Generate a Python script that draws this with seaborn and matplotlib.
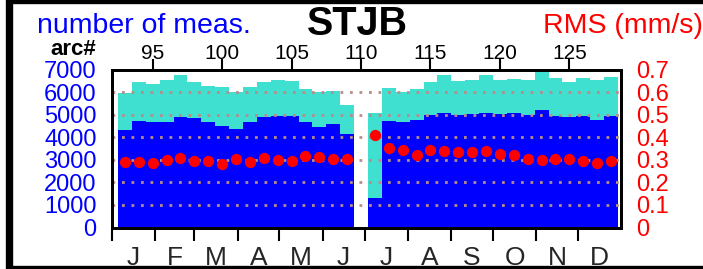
import seaborn as sns
import matplotlib
matplotlib.use("Agg")
import matplotlib.pyplot as plt
from matplotlib.patches import Rectangle

# arc numbers (arc 110 has no data)
arcs = [93, 94, 95, 96, 97, 98, 99, 100, 101, 102, 103, 104, 105, 106, 107, 108, 109,
        111, 112, 113, 114, 115, 116, 117, 118, 119, 120, 121, 122, 123, 124, 125, 126, 127, 128]

# total number of measurements per arc (turquoise)
meas_total = [5960, 6440, 6360, 6560, 6760, 6440, 6260, 6215, 6007, 6230, 6467, 6526, 6481,
              6156, 5993, 6037, 5444,
              5074, 6200, 6022, 6156, 6467, 6763, 6496, 6541, 6785, 6556, 6585, 6541, 6881,
              6615, 6437, 6630, 6556, 6689]

# used measurements per arc (blue)
meas_used = [4333, 4733, 4659, 4689, 4896, 4837, 4659, 4511, 4370, 4689, 4896, 4941, 4926,
             4659, 4452, 4600, 4156,
             1311, 4704, 4674, 4778, 5000, 5074, 5000, 5044, 5074, 5044, 5059, 4985, 5207,
             4941, 4881, 4956, 4748, 4941]

# RMS per arc (mm/s)
rms = [0.291, 0.290, 0.285, 0.301, 0.307, 0.294, 0.293, 0.283, 0.302, 0.289, 0.310, 0.300,
       0.293, 0.319, 0.314, 0.305, 0.303,
       0.409, 0.352, 0.345, 0.323, 0.342, 0.338, 0.334, 0.336, 0.339, 0.327, 0.323, 0.303,
       0.300, 0.303, 0.303, 0.296, 0.285, 0.296]

arc_ticks = [95, 100, 105, 110, 115, 120, 125]
meas_ticks = [0, 1000, 2000, 3000, 4000, 5000, 6000, 7000]
rms_ticks = [0, 0.1, 0.2, 0.3, 0.4, 0.5, 0.6, 0.7]
rms_labels = ["0", "0.1", "0.2", "0.3", "0.4", "0.5", "0.6", "0.7"]
month_labels = ["J", "F", "M", "A", "M", "J", "J", "A", "S", "O", "N", "D"]
month_starts = [0, 31, 59, 90, 120, 151, 181, 212, 243, 273, 304, 334]
year_days = 365

TEAL = "#40E0D0"
BLUE = "#0000FF"
RED = "#FF0000"
GRID = "#B88C8C"

sns.set_style("white")
plt.rcParams["font.family"] = ["Liberation Sans", "DejaVu Sans"]

fig = plt.figure(figsize=(7.03, 2.69), dpi=100)
ax = fig.add_axes([112 / 703, (269 - 227.5) / 269, (621.3 - 112) / 703, (227.5 - 69.7) / 269])

sns.barplot(x=arcs, y=meas_total, native_scale=True, width=1, color=TEAL, saturation=1,
            linewidth=0, edgecolor="none", errorbar=None, ax=ax)
sns.barplot(x=arcs, y=meas_used, native_scale=True, width=1, color=BLUE, saturation=1,
            linewidth=0, edgecolor="none", errorbar=None, ax=ax)

ax.set_xlim(92.07, 128.74)
ax.set_ylim(0, 7000)
ax.set_xlabel("")
ax.set_ylabel("")

# right axis: RMS
axr = ax.twinx()
sns.scatterplot(x=arcs, y=rms, color=RED, s=66, linewidth=0, ax=axr, zorder=3)
axr.set_ylim(0, 0.7)
axr.set_yticks(rms_ticks)
axr.set_yticklabels(rms_labels)
axr.tick_params(axis="y", length=0, pad=11, labelsize=17, labelcolor=RED)
axr.set_ylabel("")
axr.grid(False)

# bottom axis: months
axm = ax.twiny()
axm.set_xlim(0, year_days)
axm.xaxis.tick_bottom()
axm.set_xticks(month_starts)
axm.set_xticklabels([])
month_mids = [(s + e) / 2 for s, e in zip(month_starts, month_starts[1:] + [year_days])]
axm.set_xticks(month_mids, minor=True)
axm.set_xticklabels(month_labels, minor=True)
axm.tick_params(axis="x", which="major", direction="out", length=9.5, width=1.5,
                colors="black")
axm.tick_params(axis="x", which="minor", length=0, pad=13.5, labelsize=19)
axm.grid(False)

# top axis: arc numbers (after twiny, which moves ax ticks to the bottom)
ax.xaxis.tick_top()
ax.set_xticks(arc_ticks)
ax.set_xticklabels([str(a) for a in arc_ticks])
ax.tick_params(axis="x", direction="out", length=8, width=1.5, pad=-3, labelsize=15,
               colors="black")

# left axis: number of measurements
ax.set_yticks(meas_ticks)
ax.set_yticklabels([str(t) for t in meas_ticks])
ax.tick_params(axis="y", length=0, pad=11, labelsize=17, labelcolor=BLUE)

ax.set_axisbelow(False)
ax.yaxis.grid(True, color=GRID, linewidth=2.0, linestyle=(0, (1, 2.42)))
ax.xaxis.grid(False)

for a in (ax, axr, axm):
    for sp in a.spines.values():
        sp.set_linewidth(2.0)
        sp.set_color("black")

fig.text(37 / 703, (269 - 33.3) / 269, "number of meas.", color=BLUE, fontsize=20.5,
         ha="left", va="baseline")
fig.text(357.5 / 703, (269 - 35) / 269, "STJB", color="black", fontsize=28.5,
         fontweight="bold", ha="center", va="baseline")
fig.text(543 / 703, (269 - 33.3) / 269, "RMS (mm/s)", color=RED, fontsize=20.5,
         ha="left", va="baseline")
fig.text(50 / 703, (269 - 55) / 269, "arc#", color="black", fontsize=16,
         fontweight="bold", ha="left", va="baseline")

# outer frame
fig.patches.append(Rectangle((8.5 / 703, 0.5 / 269), 1.05, 1.0, transform=fig.transFigure,
                             fill=False, linewidth=5.3, edgecolor="black", clip_on=False))

fig.savefig("out.png", dpi=100)
